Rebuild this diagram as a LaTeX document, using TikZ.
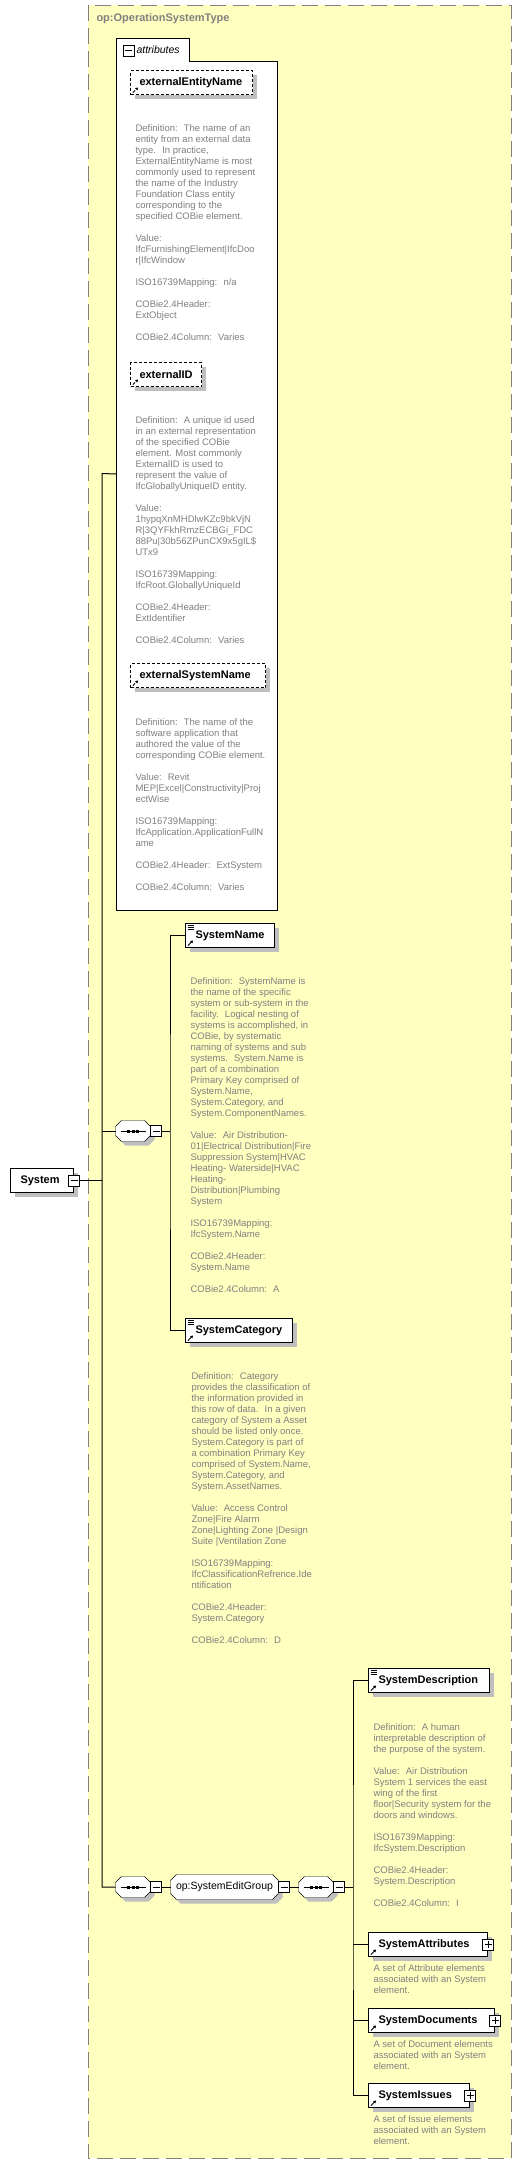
\documentclass[tikz,border=0pt]{standalone}
\usepackage{fontspec}
\setmainfont{Liberation Sans}
\usetikzlibrary{shadows,arrows.meta}
\pgfdeclarelayer{back}
\pgfsetlayers{back,main}
\definecolor{schemayellow}{HTML}{FFFFC0}
\definecolor{descgray}{HTML}{808080}

\newcommand\reficon{\draw[line width=1pt,-{Triangle[length=2.5pt,width=3pt]}]
  ([xshift=2.5pt,yshift=2pt]path picture bounding box.south west) --
  ([xshift=7.5pt,yshift=7pt]path picture bounding box.south west);}
\newcommand\typeicon{\foreach \k in {1.5,3.5,5.5}
  \draw[line width=0.8pt] ([xshift=2pt,yshift=-\k pt]path picture bounding box.north west) -- ++(6pt,0pt);}

\tikzset{
  elem/.style={draw, fill=white, anchor=north west, minimum height=24pt, inner sep=0pt, align=left,
    font=\fontsize{11}{13}\selectfont\bfseries,
    drop shadow={shadow xshift=4pt, shadow yshift=-4pt, fill=black!25, opacity=1}},
  attr/.style={elem, dash pattern=on 3pt off 2pt},
  wide/.style 2 args={minimum width=#1pt, text width=#2pt},
  refd/.style={path picture={\reficon}},
  typed/.style={path picture={\reficon\typeicon}},
  mbox/.style={draw, fill=white, minimum size=11pt, inner sep=0pt,
    path picture={\draw ([xshift=2pt]path picture bounding box.west) -- ([xshift=-2pt]path picture bounding box.east);}},
  pbox/.style={mbox,
    path picture={\draw ([xshift=2pt]path picture bounding box.west) -- ([xshift=-2pt]path picture bounding box.east)
      ([yshift=2pt]path picture bounding box.south) -- ([yshift=-2pt]path picture bounding box.north);}},
  comp/.style={inner sep=0pt, draw=none},
  octo/.style 2 args={insert path={([xshift=#2]#1.north west) -- ([xshift=-#2]#1.north east)
    -- ([yshift=-#2]#1.north east) -- ([yshift=#2]#1.south east) -- ([xshift=-#2]#1.south east)
    -- ([xshift=#2]#1.south west) -- ([yshift=#2]#1.south west) -- ([yshift=-#2]#1.north west) -- cycle}},
  desc/.style={anchor=north west, inner sep=0pt, align=left, text=descgray,
    font=\fontsize{9.5}{11}\selectfont, execute at begin node={\rule{0pt}{7.2pt}}},
}

\begin{document}
\begin{tikzpicture}[x=1pt, y=-1pt, line width=1pt]
  \useasboundingbox (0,0) rectangle (522,2164);

  % op:OperationSystemType
  \node[anchor=west, inner sep=0pt, text=descgray, font=\fontsize{11}{13}\selectfont\bfseries] (ttl) at (96,19) {op:OperationSystemType};

  % attributes
  \node[comp, minimum width=160pt, minimum height=871pt, anchor=north west] (attrs) at (116,38) {};
  \draw[fill=white] (attrs.north west) -- ++(73,0) -- ++(0,23) -| (attrs.south east) -- (attrs.south west) -- cycle;
  \node[mbox] (attrsm) at (128.8,50.7) {};
  \node[anchor=west, inner sep=0pt, font=\fontsize{10.5}{12}\selectfont\itshape] (attrstx) at (136,50) {attributes};

  \node[attr, refd, wide={122}{104}] (een) at (130,70) {externalEntityName};
  \node[desc] (eend) at (135,124.3) {Definition:~ The name of an\\ entity from an external data\\ type.~ In practice,\\
    ExternalEntityName is most\\ commonly used to represent\\ the name of the Industry\\ Foundation Class entity\\
    corresponding to the\\ specified COBie element.\\[11pt] Value:\\ IfcFurnishingElement|IfcDoo\\ r|IfcWindow\\[11pt]
    ISO16739Mapping:~ n/a\\[11pt] COBie2.4Header:\\ ExtObject\\[11pt] COBie2.4Column:~ Varies};

  \node[attr, refd, wide={71}{53}] (eid) at (130,362) {externalID};
  \node[desc] (eidd) at (135,416.3) {Definition:~ A unique id used\\ in an external representation\\ of the specified COBie\\
    element. Most commonly\\ ExternalID is used to\\ represent the value of\\ IfcGloballyUniqueID entity.\\[11pt]
    Value:\\ 1hypqXnMHDlwKZc9bkVjN\\ R|3QYFkhRmzECBGi\_FDC\\ 88Pu|30b56ZPunCX9x5gIL\$\\ UTx9\\[11pt]
    ISO16739Mapping:\\ IfcRoot.GloballyUniqueId\\[11pt] COBie2.4Header:\\ ExtIdentifier\\[11pt] COBie2.4Column:~ Varies};

  \node[attr, refd, wide={135}{117}] (esn) at (130,663) {externalSystemName};
  \node[desc] (esnd) at (135,718.3) {Definition:~ The name of the\\ software application that\\ authored the value of the\\
    corresponding COBie element.\\[11pt] Value:~ Revit\\ MEP|Excel|Constructivity|Proj\\ ectWise\\[11pt]
    ISO16739Mapping:\\ IfcApplication.ApplicationFullN\\ ame\\[11pt] COBie2.4Header:~ ExtSystem\\[11pt] COBie2.4Column:~ Varies};

  % System and its content
  \node[elem, wide={63}{43}] (sys) at (10,1168) {System};
  \node[mbox] (sysm) at (sys.east) {};

  \node[comp, minimum width=34pt, minimum height=20pt] (seqA) at (133,1131) {};
  \node[mbox] (seqAm) at ([xshift=5.5pt]seqA.east) {};

  \node[elem, typed, wide={89}{69}] (sname) at (185,923) {SystemName};
  \node[desc] (snamed) at (190,977.3) {Definition:~ SystemName is\\ the name of the specific\\ system or sub-system in the\\
    facility.~ Logical nesting of\\ systems is accomplished, in\\ COBie, by systematic\\ naming of systems and sub\\
    systems.~ System.Name is\\ part of a combination\\ Primary Key comprised of\\ System.Name,\\ System.Category, and\\
    System.ComponentNames.\\[11pt] Value:~ Air Distribution-\\ 01|Electrical Distribution|Fire\\ Suppression System|HVAC\\
    Heating- Waterside|HVAC\\ Heating-\\ Distribution|Plumbing\\ System\\[11pt] ISO16739Mapping:\\ IfcSystem.Name\\[11pt]
    COBie2.4Header:\\ System.Name\\[11pt] COBie2.4Column:~ A};

  \node[elem, typed, wide={107}{87}] (scat) at (185,1318) {SystemCategory};
  \node[desc] (scatd) at (191,1372.3) {Definition:~ Category\\ provides the classification of\\ the information provided in\\
    this row of data.~ In a given\\ category of System a Asset\\ should be listed only once.\\ System.Category is part of\\
    a combination Primary Key\\ comprised of System.Name,\\ System.Category, and\\ System.AssetNames.\\[11pt]
    Value:~ Access Control\\ Zone|Fire Alarm\\ Zone|Lighting Zone |Design\\ Suite |Ventilation Zone\\[11pt]
    ISO16739Mapping:\\ IfcClassificationRefrence.Ide\\ ntification\\[11pt] COBie2.4Header:\\ System.Category\\[11pt]
    COBie2.4Column:~ D};

  % op:SystemEditGroup
  \node[comp, minimum width=34pt, minimum height=20pt] (seqB) at (133,1887) {};
  \node[mbox] (seqBm) at ([xshift=5.5pt]seqB.east) {};
  \node[comp, minimum width=107pt, minimum height=24pt, font=\fontsize{10.5}{12}\selectfont] (grp) at (224.5,1887) {op:SystemEditGroup};
  \node[mbox] (grpm) at ([xshift=5.5pt]grp.east) {};
  \node[comp, minimum width=34pt, minimum height=20pt] (seqC) at (316,1887) {};
  \node[mbox] (seqCm) at ([xshift=5.5pt]seqC.east) {};

  \node[elem, typed, wide={121}{101}] (sdesc) at (368,1668) {SystemDescription};
  \node[desc] (sdescd) at (373,1723.3) {Definition:~ A human\\ interpretable description of\\ the purpose of the system.\\[11pt]
    Value:~ Air Distribution\\ System 1 services the east\\ wing of the first\\ floor|Security system for the\\
    doors and windows.\\[11pt] ISO16739Mapping:\\ IfcSystem.Description\\[11pt] COBie2.4Header:\\ System.Description\\[11pt]
    COBie2.4Column:~ I};

  \node[elem, refd, wide={119}{99}] (sattr) at (368,1932) {SystemAttributes};
  \node[pbox] (sattrp) at (sattr.east) {};
  \node[desc] (sattrd) at (373,1964.3) {A set of Attribute elements\\ associated with an System\\ element.};

  \node[elem, refd, wide={126}{106}] (sdocs) at (368,2008) {SystemDocuments};
  \node[pbox] (sdocsp) at (sdocs.east) {};
  \node[desc] (sdocsd) at (373,2040.3) {A set of Document elements\\ associated with an System\\ element.};

  \node[elem, refd, wide={101}{81}] (sissu) at (368,2083) {SystemIssues};
  \node[pbox] (sissup) at (sissu.east) {};
  \node[desc] (sissud) at (373,2115.3) {A set of Issue elements\\ associated with an System\\ element.};

  % connectors
  \coordinate (trunkA) at (102,473.5);
  \coordinate (trunkB) at (102,1887);
  \coordinate (brA) at (170,1131);
  \coordinate (brB) at (353,1887);
  \draw (attrs.west) -- (trunkA) -- (trunkB) -- (seqB.west);
  \draw (sysm.east) -- (sysm.east -| trunkA);
  \draw (seqA.west) -- (seqA.west -| trunkA);
  \draw (seqAm.east) -- (brA);
  \draw (sname.west) -| (brA) |- (scat.west);
  \draw (seqBm.east) -- (grp.west);
  \draw (grpm.east) -- (seqC.west);
  \draw (seqCm.east) -- (brB);
  \draw (sdesc.west) -| (brB) |- (sissu.west);
  \draw (sattr.west) -- (sattr.west -| brB);
  \draw (sdocs.west) -- (sdocs.west -| brB);

  % sequence marks
  \foreach \n in {seqA,seqB,seqC} {
    \draw ([xshift=5pt]\n.west) -- ([xshift=-5pt]\n.east);
    \foreach \d in {-4.5,0,4.5}
      \fill ([xshift=\d pt]\n.center) +(-1.5pt,-1.5pt) rectangle +(1.5pt,1.5pt);
  }

  \begin{pgfonlayer}{back}
    \draw[fill=schemayellow, draw=descgray, dash pattern=on 16pt off 7pt] (88,5) rectangle (511,2158);
    \foreach \n in {seqA,seqB,grp,seqC} {
      \fill[black!25, transform canvas={shift={(4pt,-4pt)}}] [octo={\n}{6pt}];
      \draw[fill=white] [octo={\n}{6pt}];
    }
  \end{pgfonlayer}
\end{tikzpicture}
\end{document}
